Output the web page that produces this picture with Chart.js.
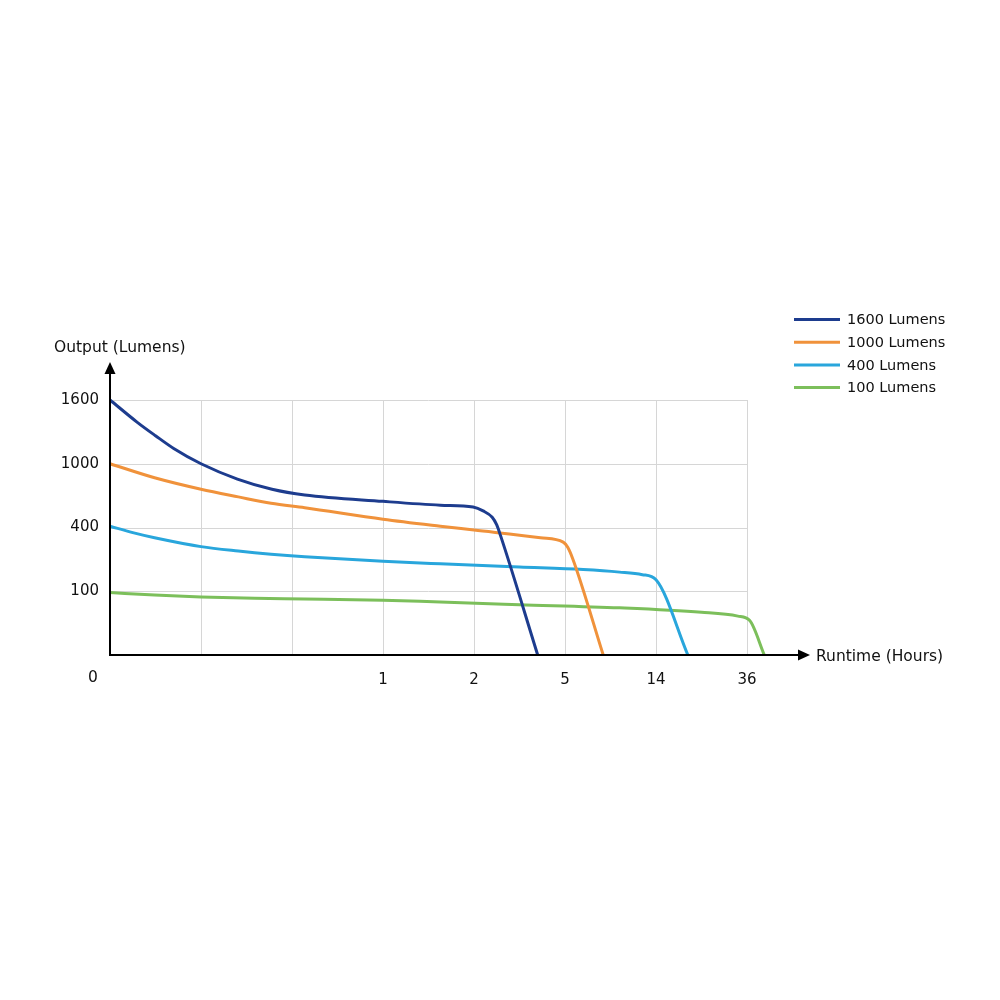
<!DOCTYPE html>
<html>
<head>
<meta charset="utf-8">
<script src="https://cdn.jsdelivr.net/npm/chart.js@4"></script>
<style>
  html, body { margin: 0; padding: 0; background: #fff; }
  #wrap { width: 1000px; height: 1000px; }
</style>
</head>
<body>
<div id="wrap"><canvas id="myChart" width="1000" height="1000"></canvas></div>
<script>
// tick labels (axes are in tick-index units, as in the original schematic)
let xLabels = ['', '', '', '1', '2', '5', '14', '36'];
let yLabels = ['', '100', '400', '1000', '1600'];
let seriesNames = ['1600 Lumens', '1000 Lumens', '400 Lumens', '100 Lumens'];
let seriesColors = ['#1d3c8e', '#f0923b', '#29a6dc', '#7cbf5b'];

// [x, y] points
let lm1600 = [[0, 4], [0.3, 3.65], [0.5, 3.44], [0.7, 3.24], [1, 3.0], [1.4, 2.76], [1.78, 2.6], [2.14, 2.51], [3, 2.41], [3.63, 2.35], [3.99, 2.32], [4.1, 2.26], [4.2, 2.16], [4.25, 2.04], [4.29, 1.88], [4.7, 0]];
let lm1000 = [[0, 3.0], [0.49, 2.78], [1, 2.6], [1.41, 2.48], [1.77, 2.38], [2.14, 2.31], [3, 2.13], [3.63, 2.02], [4, 1.96], [4.73, 1.84], [4.98, 1.77], [5.03, 1.69], [5.09, 1.49], [5.42, 0]];
let lm400 = [[0, 2.02], [0.25, 1.92], [0.49, 1.84], [1, 1.7], [1.41, 1.63], [1.77, 1.58], [2.14, 1.54], [3, 1.47], [3.63, 1.43], [4.5, 1.38], [5.2, 1.34], [5.6, 1.3], [5.85, 1.26], [6, 1.18], [6.35, 0]];
let lm100 = [[0, 0.98], [0.49, 0.94], [1, 0.91], [1.59, 0.89], [2.14, 0.88], [3, 0.86], [3.63, 0.83], [4.5, 0.79], [5.6, 0.74], [6.5, 0.67], [6.9, 0.61], [7.03, 0.54], [7.19, 0]];

let xGridMax = 7; // last vertical grid line

Chart.defaults.font.family = "'DejaVu Sans', sans-serif";
Chart.defaults.color = '#111';

function toPoints(arr){
    return arr.map(p => ({x: p[0], y: p[1]}));
}

// horizontal grid lines that stop at the last vertical grid line
let hGrid = {
    id: 'hGrid',
    beforeDatasetsDraw(chart){
        let ctx = chart.ctx;
        let xs = chart.scales.x;
        let ys = chart.scales.y;
        ctx.save();
        ctx.strokeStyle = '#d6d6d6';
        ctx.lineWidth = 1;
        ys.ticks.forEach(t => {
            if (t.value === 0) return;
            let y = Math.round(ys.getPixelForValue(t.value)) + 0.5;
            ctx.beginPath();
            ctx.moveTo(xs.getPixelForValue(0), y);
            ctx.lineTo(xs.getPixelForValue(xGridMax), y);
            ctx.stroke();
        });
        ctx.restore();
    }
};

// draws axes with arrows, axis titles, the origin "0" and the legend
let extras = {
    id: 'extras',
    afterDatasetsDraw(chart){
        let ctx = chart.ctx;
        let a = chart.chartArea;
        ctx.save();
        ctx.strokeStyle = '#000';
        ctx.fillStyle = '#000';
        ctx.lineWidth = 2;
        // x axis
        ctx.beginPath();
        ctx.moveTo(a.left - 1, a.bottom);
        ctx.lineTo(800, a.bottom);
        ctx.stroke();
        ctx.beginPath();
        ctx.moveTo(810, a.bottom);
        ctx.lineTo(798, a.bottom - 5.5);
        ctx.lineTo(798, a.bottom + 5.5);
        ctx.closePath();
        ctx.fill();
        // y axis
        ctx.beginPath();
        ctx.moveTo(a.left, a.bottom + 1);
        ctx.lineTo(a.left, 372);
        ctx.stroke();
        ctx.beginPath();
        ctx.moveTo(a.left, 362);
        ctx.lineTo(a.left - 5.5, 374);
        ctx.lineTo(a.left + 5.5, 374);
        ctx.closePath();
        ctx.fill();

        ctx.fillStyle = '#111';
        ctx.font = "15.5px 'DejaVu Sans'";
        ctx.textBaseline = 'middle';
        ctx.textAlign = 'left';
        ctx.fillText('Output (Lumens)', 54, 348);
        ctx.fillText('Runtime (Hours)', 816, 657);
        ctx.textAlign = 'center';
        ctx.fillText('0', 93, 678);

        // legend
        ctx.font = "14.5px 'DejaVu Sans'";
        ctx.textAlign = 'left';
        chart.data.datasets.forEach((ds, i) => {
            let y = 319.5 + i * 22.7;
            ctx.strokeStyle = ds.borderColor;
            ctx.lineWidth = 3;
            ctx.beginPath();
            ctx.moveTo(794, y);
            ctx.lineTo(840, y);
            ctx.stroke();
            ctx.fillText(ds.label, 847, y + 1);
        });
        ctx.restore();
    }
};

let ctx = document.getElementById('myChart').getContext('2d');
let myChart = new Chart(ctx, {
    type: 'line',
    data: {
        datasets: [lm1600, lm1000, lm400, lm100].map((s, i) => ({
            label: seriesNames[i],
            data: toPoints(s),
            borderColor: seriesColors[i],
            borderWidth: 3,
            pointRadius: 0,
            fill: false,
            clip: false,
            cubicInterpolationMode: 'monotone'
        }))
    },
    options: {
        responsive: false,
        animation: false,
        // 91 px per step: 110 + 7.2 * 91 = 765.2
        layout: { padding: { left: 0, top: 400, right: 234.8, bottom: 0 } },
        plugins: {
            legend: { display: false },
            tooltip: { enabled: false }
        },
        scales: {
            x: {
                type: 'linear',
                min: 0,
                max: 7.2,
                afterFit: function(scale){ scale.height = 345; },
                afterBuildTicks: function(scale){
                    scale.ticks = xLabels.map((l, i) => ({ value: i }));
                },
                border: { display: false },
                grid: { color: '#d6d6d6', lineWidth: 1, drawTicks: false },
                ticks: {
                    padding: 16,
                    maxRotation: 0,
                    autoSkip: false,
                    font: { size: 15 },
                    callback: function(v){ return xLabels[v] || ''; }
                }
            },
            y: {
                min: 0,
                max: 4,
                afterFit: function(scale){ scale.width = 110; },
                border: { display: false },
                grid: { display: false, drawTicks: false },
                ticks: {
                    stepSize: 1,
                    padding: 11,
                    font: { size: 15 },
                    callback: function(v){ return yLabels[v] || ''; }
                }
            }
        }
    },
    plugins: [hGrid, extras]
});
</script>
</body>
</html>
